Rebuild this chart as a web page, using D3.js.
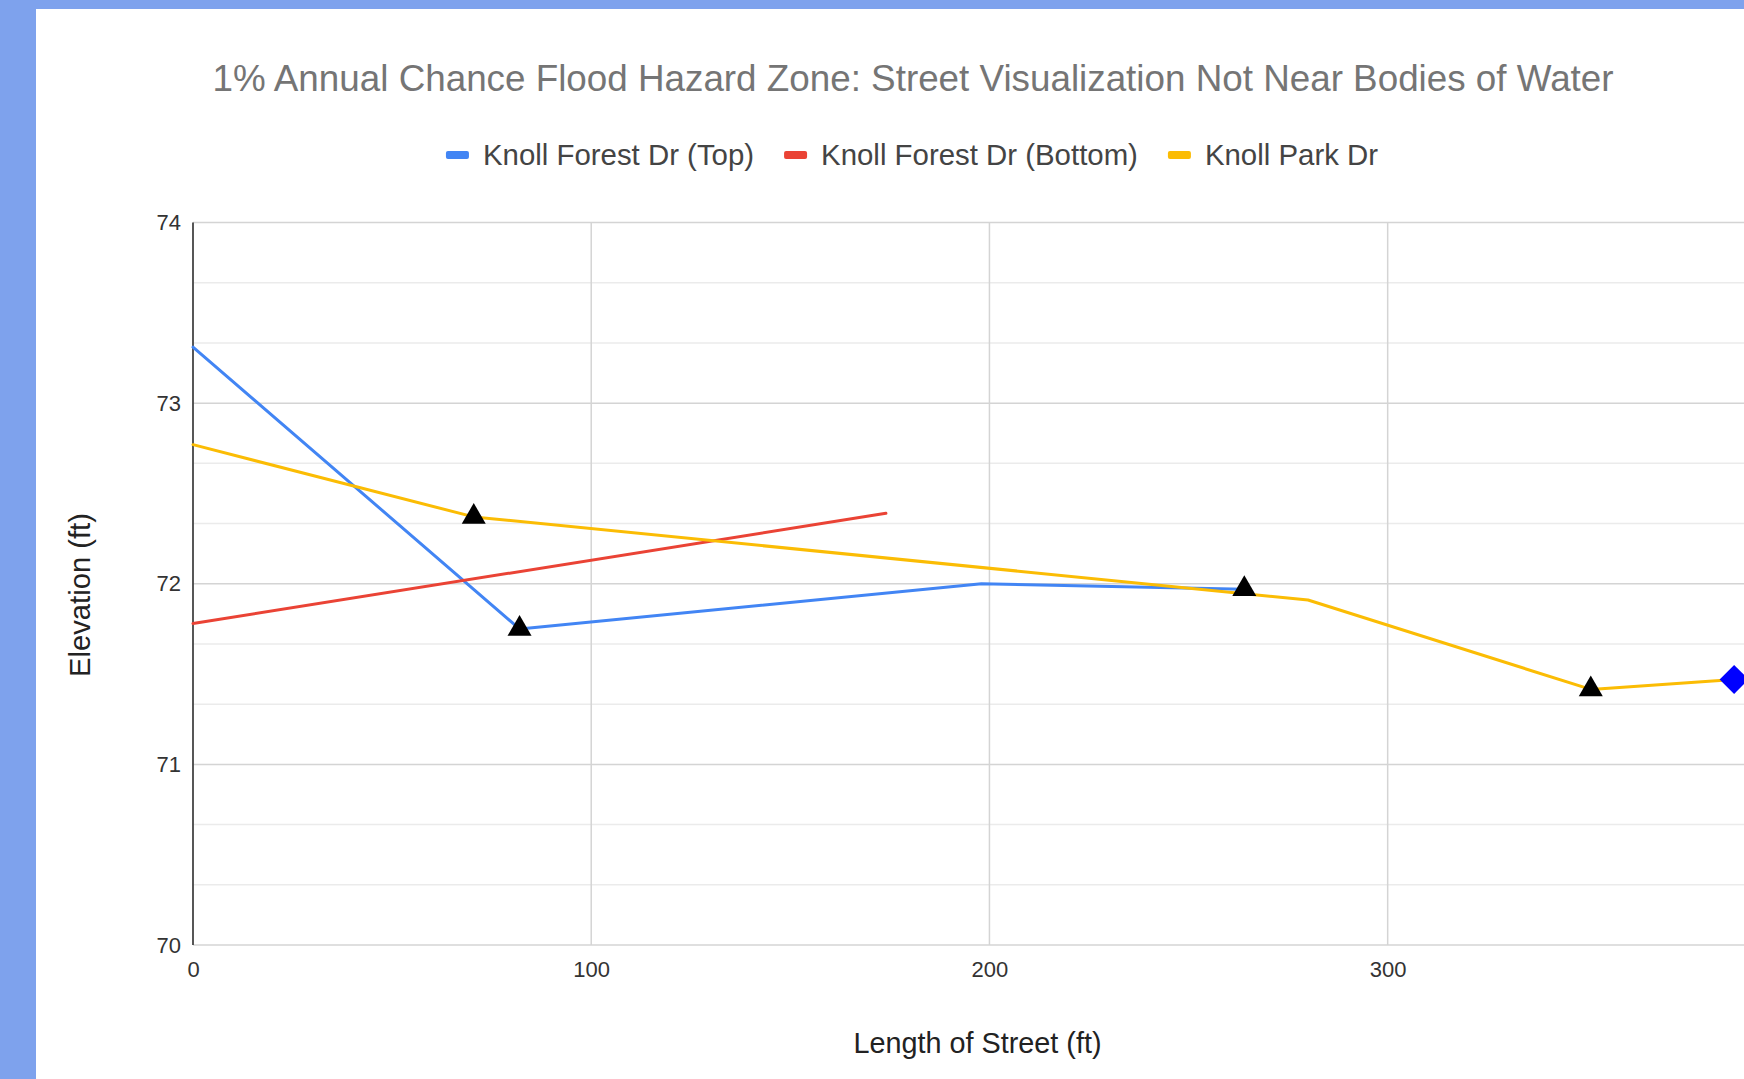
<!DOCTYPE html>
<html>
<head>
<meta charset="utf-8">
<script src="https://cdn.jsdelivr.net/npm/d3@7"></script>
<style>
html,body{margin:0;padding:0;background:#fff;overflow:hidden;}
svg{display:block;}
text{font-family:"Liberation Sans",Arial,sans-serif;}
</style>
</head>
<body>
<svg id="chart" width="1744" height="1079"></svg>
<script>
// ---- data ----
const titleText = "1% Annual Chance Flood Hazard Zone: Street Visualization Not Near Bodies of Water";
const xTitle = "Length of Street (ft)";
const yTitle = "Elevation (ft)";
const seriesNames = ["Knoll Forest Dr (Top)", "Knoll Forest Dr (Bottom)", "Knoll Park Dr"];
const seriesColors = ["#4285f4", "#ea4335", "#fbbc04"];

const topX = [0, 82, 198, 264];
const topY = [73.31, 71.75, 72.0, 71.97];
const bottomX = [0, 174];
const bottomY = [71.78, 72.39];
const parkX = [0, 70.5, 280, 351, 387];
const parkY = [72.77, 72.37, 71.91, 71.415, 71.47];

// marked points: indices into each series
const topTriangles = [1, 3];
const parkTriangles = [1, 3];
const parkDiamonds = [4];

const xTicks = [0, 100, 200, 300];
const yTicks = [70, 71, 72, 73, 74];
const yMinorTicks = [70.333, 70.667, 71.333, 71.667, 72.333, 72.667, 73.333, 73.667];

// ---- layout ----
const svg = d3.select("#chart");
const pLeft = 193, pRight = 1762, pTop = 222.5, pBottom = 945;

svg.append("rect").attr("width", 1744).attr("height", 1079).attr("fill", "#fff");
// blue frame
svg.append("rect").attr("x", 0).attr("y", 0).attr("width", 1744).attr("height", 9).attr("fill", "#7ea2ed");
svg.append("rect").attr("x", 0).attr("y", 0).attr("width", 36).attr("height", 1079).attr("fill", "#7ea2ed");

const x = d3.scaleLinear().domain([0, 394]).range([pLeft, pRight]);
const y = d3.scaleLinear().domain([70, 74]).range([pBottom, pTop]);

// minor gridlines
svg.append("g").selectAll("line").data(yMinorTicks).join("line")
  .attr("x1", pLeft).attr("x2", 1744).attr("y1", d => y(d)).attr("y2", d => y(d))
  .attr("stroke", "#ebebeb").attr("stroke-width", 1.5);

// major gridlines
svg.append("g").selectAll("line").data(yTicks).join("line")
  .attr("x1", pLeft).attr("x2", 1744).attr("y1", d => y(d)).attr("y2", d => y(d))
  .attr("stroke", "#d4d4d4").attr("stroke-width", 1.5);
svg.append("g").selectAll("line").data(xTicks.filter(d => d > 0)).join("line")
  .attr("x1", d => x(d)).attr("x2", d => x(d)).attr("y1", pTop).attr("y2", pBottom)
  .attr("stroke", "#d4d4d4").attr("stroke-width", 1.5);

// y axis line
svg.append("line").attr("x1", pLeft).attr("x2", pLeft).attr("y1", pTop).attr("y2", pBottom)
  .attr("stroke", "#444").attr("stroke-width", 1.8);

// tick labels via axes
const yAxis = svg.append("g").attr("transform", `translate(${pLeft},0)`)
  .call(d3.axisLeft(y).tickValues(yTicks).tickSize(0).tickPadding(12).tickFormat(d3.format("d")));
yAxis.select(".domain").remove();
yAxis.selectAll("text").attr("font-size", 22).attr("fill", "#333").attr("font-family", "'Liberation Sans',Arial,sans-serif");

const xAxis = svg.append("g").attr("transform", `translate(0,${pBottom})`)
  .call(d3.axisBottom(x).tickValues(xTicks).tickSize(0).tickPadding(16).tickFormat(d3.format("d")));
xAxis.select(".domain").remove();
xAxis.selectAll("text").attr("font-size", 22).attr("fill", "#333").attr("font-family", "'Liberation Sans',Arial,sans-serif");

// lines
const line = d3.line().x(d => x(d[0])).y(d => y(d[1]));
const seriesData = [
  d3.zip(topX, topY),
  d3.zip(bottomX, bottomY),
  d3.zip(parkX, parkY)
];
const plot = svg.append("g");
seriesData.forEach((pts, i) => {
  plot.append("path").datum(pts).attr("d", line).attr("fill", "none")
    .attr("stroke", seriesColors[i]).attr("stroke-width", 3)
    .attr("stroke-linejoin", "round").attr("stroke-linecap", "round");
});

// markers
const triPts = topTriangles.map(i => seriesData[0][i]).concat(parkTriangles.map(i => seriesData[2][i]));
plot.selectAll(".tri").data(triPts).join("path").attr("class", "tri")
  .attr("d", d3.symbol(d3.symbolTriangle, 250))
  .attr("transform", d => `translate(${x(d[0])},${y(d[1])})`)
  .attr("fill", "#000");
const diaPts = parkDiamonds.map(i => seriesData[2][i]);
plot.selectAll(".dia").data(diaPts).join("path").attr("class", "dia")
  .attr("d", d3.symbol(d3.symbolSquare, 420))
  .attr("transform", d => `translate(${x(d[0])},${y(d[1])}) rotate(45)`)
  .attr("fill", "#0000ff");

// title
svg.append("text").attr("x", 913).attr("y", 91).attr("text-anchor", "middle")
  .attr("font-size", 36.8).attr("fill", "#757575").text(titleText);

// legend
const legend = svg.append("g");
const legFont = 29.4;
let lx = 0;
seriesNames.forEach((name, i) => {
  const g = legend.append("g");
  g.append("rect").attr("x", lx).attr("y", -14).attr("width", 23).attr("height", 8).attr("rx", 2)
    .attr("fill", seriesColors[i]);
  const t = g.append("text").attr("x", lx + 37).attr("y", 0).attr("font-size", legFont)
    .attr("fill", "#444").text(name);
  const w = t.node().getComputedTextLength();
  lx += 37 + w + 30;
});
const legW = lx - 30;
legend.attr("transform", `translate(${912 - legW / 2},165)`);

// axis titles
svg.append("text").attr("x", (pLeft + pRight) / 2).attr("y", 1053).attr("text-anchor", "middle")
  .attr("font-size", 28.8).attr("fill", "#222").text(xTitle);
svg.append("text").attr("transform", `translate(90,595) rotate(-90)`).attr("text-anchor", "middle")
  .attr("font-size", 29.2).attr("fill", "#222").text(yTitle);
</script>
</body>
</html>
